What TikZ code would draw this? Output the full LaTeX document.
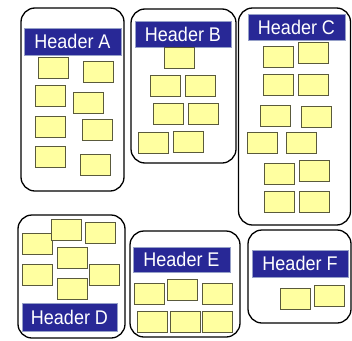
\documentclass[tikz,border=0pt]{standalone}
\usepackage{fontspec}
\setmainfont{Liberation Sans}
\definecolor{hdrblue}{RGB}{40,40,150}
\definecolor{hdredge}{RGB}{150,160,200}
\definecolor{ylw}{RGB}{255,255,160}
\definecolor{ylwedge}{RGB}{90,90,60}
\newcommand{\hdrtext}[1]{\scalebox{1}[1.1]{#1}}
\tikzset{
  cont/.style={draw=black, line width=1.3pt, rounded corners=14pt, fill=white, inner sep=0pt},
  hdr/.style={draw=hdredge, line width=0.8pt, fill=hdrblue, text=white, inner sep=0pt,
    font=\fontsize{18}{21}\selectfont},
  yb/.style={draw=ylwedge, line width=0.9pt, fill=ylw, minimum width=30pt, minimum height=21pt, inner sep=0pt}
}
\begin{document}
\begin{tikzpicture}[x=1pt,y=-1pt]
\useasboundingbox[fill=white] (0,0) rectangle (352,340);
% containers
\node[cont, minimum width=103pt, minimum height=183pt] (cA) at (72.5,99.5) {};
\node[cont, minimum width=105pt, minimum height=154pt] (cB) at (183.5,86) {};
\node[cont, minimum width=112pt, minimum height=217pt] (cC) at (294.5,116.5) {};
\node[cont, minimum width=107pt, minimum height=123pt] (cD) at (71.5,276.5) {};
\node[cont, minimum width=110pt, minimum height=106pt] (cE) at (185,284) {};
\node[cont, minimum width=103pt, minimum height=93pt] (cF) at (299.5,276.5) {};
% headers
\node[hdr, minimum width=97pt, minimum height=27pt] (hA) at (72.5,41.5) {\hdrtext{Header A}};
\node[hdr, minimum width=96pt, minimum height=26pt] (hB) at (183,34) {\hdrtext{Header B}};
\node[hdr, minimum width=97pt, minimum height=26pt] (hC) at (296.5,27) {\hdrtext{Header C}};
\node[hdr, minimum width=95pt, minimum height=28pt] (hD) at (69.5,317) {\hdrtext{Header D}};
\node[hdr, minimum width=97pt, minimum height=25pt] (hE) at (181.5,259.5) {\hdrtext{Header E}};
\node[hdr, minimum width=96pt, minimum height=27pt] (hF) at (300,263.5) {\hdrtext{Header F}};
% A boxes
\node[yb] (a1) at (53,67.5) {};
\node[yb] (a2) at (98,71.5) {};
\node[yb] (a3) at (50,96) {};
\node[yb] (a4) at (88,102.5) {};
\node[yb] (a5) at (50,126.5) {};
\node[yb] (a6) at (97.5,130) {};
\node[yb] (a7) at (50,156.5) {};
\node[yb] (a8) at (95,164.5) {};
% B boxes
\node[yb] (b1) at (179,58) {};
\node[yb] (b2) at (165,86) {};
\node[yb] (b3) at (200,86) {};
\node[yb] (b4) at (168,113.5) {};
\node[yb] (b5) at (203,113.5) {};
\node[yb] (b6) at (153,142.5) {};
\node[yb] (b7) at (188,142) {};
% C boxes
\node[yb] (c1) at (278,56.5) {};
\node[yb] (c2) at (313,52.5) {};
\node[yb] (c3) at (278,85) {};
\node[yb] (c4) at (313,85) {};
\node[yb] (c5) at (275,115.5) {};
\node[yb] (c6) at (316,116.5) {};
\node[yb] (c7) at (262,142.5) {};
\node[yb] (c8) at (301,142.5) {};
\node[yb] (c9) at (279,173.5) {};
\node[yb] (c10) at (314,170.5) {};
\node[yb] (c11) at (279,201.5) {};
\node[yb] (c12) at (314,201.5) {};
% D boxes
\node[yb] (d1) at (37,243.5) {};
\node[yb] (d2) at (66,229.5) {};
\node[yb] (d3) at (100,232.5) {};
\node[yb] (d4) at (72,257.5) {};
\node[yb] (d5) at (37,274.5) {};
\node[yb] (d6) at (104,274.5) {};
\node[yb] (d7) at (72,288.5) {};
% E boxes
\node[yb] (e1) at (149,293.5) {};
\node[yb] (e2) at (182,290) {};
\node[yb] (e3) at (217,293.5) {};
\node[yb] (e4) at (152,321.5) {};
\node[yb] (e5) at (185,321.5) {};
\node[yb] (e6) at (217,321.5) {};
% F boxes
\node[yb] (f1) at (295,299) {};
\node[yb] (f2) at (329,296) {};
\end{tikzpicture}
\end{document}
